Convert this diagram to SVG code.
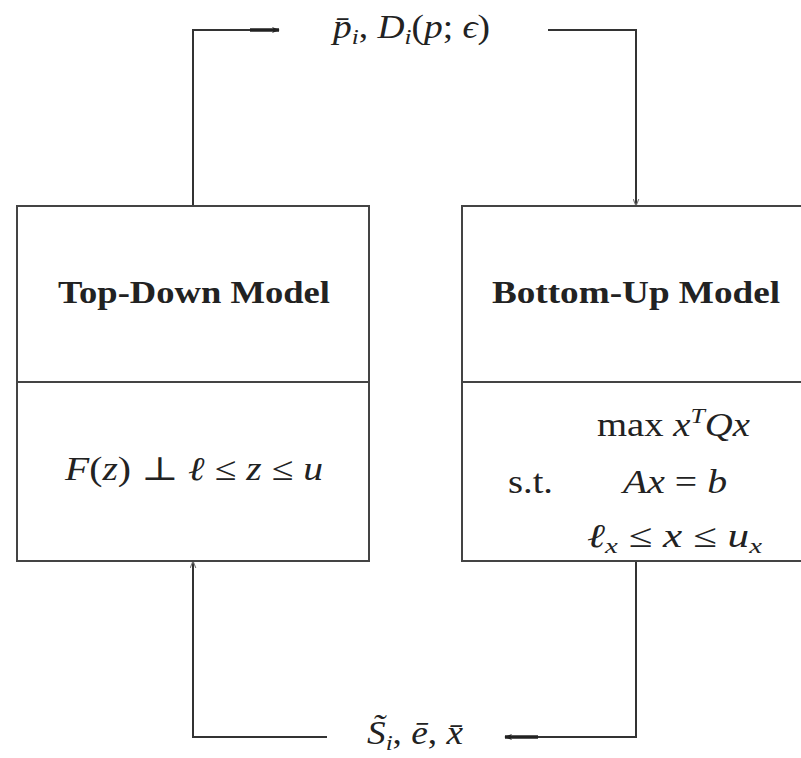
<svg xmlns="http://www.w3.org/2000/svg" width="801" height="758" viewBox="0 0 801 758">
<style>
.box{fill:none;stroke:#444;stroke-width:2}
.conn{fill:none;stroke:#333;stroke-width:2}
.thick{fill:none;stroke:#222;stroke-width:3.5}
.t{font-family:"Liberation Serif","DejaVu Serif",serif;fill:#222}
.b{font-weight:bold;font-size:31px}
.m{font-size:33px}
.i{font-style:italic}
.s{font-size:22px}
</style>
<defs>
<marker id="ah" viewBox="0 0 10 10" refX="9" refY="5" markerWidth="8" markerHeight="8" markerUnits="userSpaceOnUse" orient="auto">
<path d="M0,1 L10,5 L0,9 L3,5 Z" fill="#222"/>
</marker>
<marker id="sm" viewBox="0 0 10 10" refX="10" refY="5" markerWidth="7" markerHeight="7" markerUnits="userSpaceOnUse" orient="auto">
<path d="M0,1 L10,5 L0,9" fill="none" stroke="#777" stroke-width="1.5"/>
</marker>
</defs>
<rect width="801" height="758" fill="#fff"/>
<g id="connectors">
<path class="conn" d="M193,206 V30 H252"/>
<path class="thick" d="M250,30 H279" marker-end="url(#ah)"/>
<path class="conn" d="M548,30 H636 V206" marker-end="url(#sm)"/>
<path class="conn" d="M636,561 V737 H537"/>
<path class="thick" d="M538,737 H505" marker-end="url(#ah)"/>
<path class="conn" d="M327,737 H193 V561" marker-end="url(#sm)"/>
</g>
<g id="top-down">
<rect class="box" x="17" y="206" width="352" height="355"/>
<line class="box" x1="17" y1="382" x2="369" y2="382"/>
<text class="t b" x="58" y="303" textLength="272" lengthAdjust="spacingAndGlyphs">Top-Down Model</text>
<text class="t m" x="65" y="480" textLength="258" lengthAdjust="spacingAndGlyphs"><tspan class="i">F</tspan>(<tspan class="i">z</tspan>) ⊥ <tspan class="i">ℓ</tspan> ≤ <tspan class="i">z</tspan> ≤ <tspan class="i">u</tspan></text>
</g>
<g id="bottom-up">
<path class="box" d="M803,206 H462 V561 H803"/>
<line class="box" x1="462" y1="382" x2="803" y2="382"/>
<text class="t b" x="492" y="303" textLength="288" lengthAdjust="spacingAndGlyphs">Bottom-Up Model</text>
<text class="t m" x="597" y="436" textLength="153" lengthAdjust="spacingAndGlyphs">max <tspan class="i">x</tspan><tspan class="i s" dy="-13">T</tspan><tspan class="i" dy="13">Qx</tspan></text>
<text class="t m" x="508" y="493" textLength="45" lengthAdjust="spacingAndGlyphs">s.t.</text>
<text class="t m" x="623" y="493" textLength="104" lengthAdjust="spacingAndGlyphs"><tspan class="i">Ax</tspan> = <tspan class="i">b</tspan></text>
<text class="t m" x="587" y="547" textLength="175" lengthAdjust="spacingAndGlyphs"><tspan class="i">ℓ</tspan><tspan class="i s" dy="6">x</tspan><tspan dy="-6"> ≤ </tspan><tspan class="i">x</tspan> ≤ <tspan class="i">u</tspan><tspan class="i s" dy="6">x</tspan></text>
</g>
<g id="labels">
<text class="t m" x="333" y="38" textLength="157" lengthAdjust="spacingAndGlyphs"><tspan class="i">p̄</tspan><tspan class="i s" dy="6">i</tspan><tspan dy="-6">, </tspan><tspan class="i">D</tspan><tspan class="i s" dy="6">i</tspan><tspan dy="-6">(</tspan><tspan class="i">p</tspan>; <tspan class="i">ϵ</tspan>)</text>
<text class="t m" x="367" y="744" textLength="96" lengthAdjust="spacingAndGlyphs"><tspan class="i">S̃</tspan><tspan class="i s" dy="6">i</tspan><tspan dy="-6">, </tspan><tspan class="i">ē</tspan>, <tspan class="i">x̄</tspan></text>
</g>
</svg>
